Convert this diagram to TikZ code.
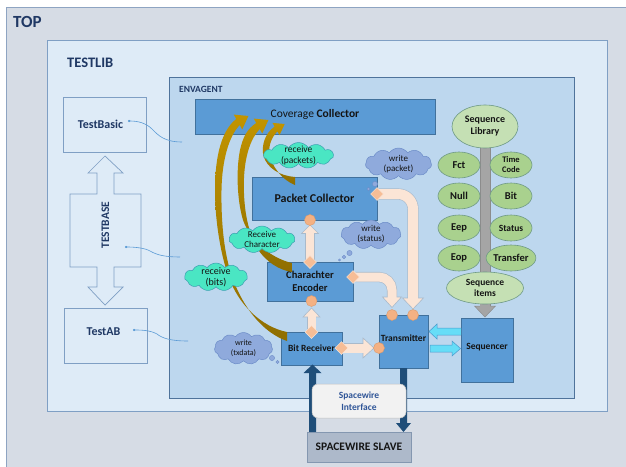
\documentclass[tikz,border=0pt]{standalone}
\usepackage{fontspec}
\setmainfont{Carlito}
\usetikzlibrary{shapes.symbols,shapes.geometric,arrows.meta}
\definecolor{topfill}{HTML}{D6DCE5}
\definecolor{topline}{HTML}{8EA4C2}
\definecolor{libfill}{HTML}{DEEBF7}
\definecolor{libline}{HTML}{7F9FC4}
\definecolor{envfill}{HTML}{BDD7EE}
\definecolor{envline}{HTML}{4F739B}
\definecolor{boxfill}{HTML}{5B9BD5}
\definecolor{boxline}{HTML}{41719C}
\definecolor{navy}{HTML}{1F3864}
\definecolor{txt}{HTML}{141414}
\definecolor{peach}{HTML}{FBE5D6}
\definecolor{peachline}{HTML}{A9BACB}
\definecolor{orng}{HTML}{F4B183}
\definecolor{orngline}{HTML}{DC9A6C}
\definecolor{gold1}{HTML}{C29400}
\definecolor{gold2}{HTML}{8F6E00}
\definecolor{tealc}{HTML}{4AE6C3}
\definecolor{tealline}{HTML}{3C9FB0}
\definecolor{cblue}{HTML}{8FAADC}
\definecolor{cblueline}{HTML}{6C8CC8}
\definecolor{cyanf}{HTML}{66DDF7}
\definecolor{cyanl}{HTML}{4A98CC}
\definecolor{dkblue}{HTML}{1F4E79}
\definecolor{slavefill}{HTML}{ADB9CA}
\definecolor{slaveline}{HTML}{8497B0}
\definecolor{grn}{HTML}{A9D18E}
\definecolor{grnline}{HTML}{6F9A86}
\definecolor{lgrn}{HTML}{C5E0B4}
\definecolor{polec}{HTML}{A5A5A5}
\definecolor{poleline}{HTML}{8C8C8C}
\definecolor{connc}{HTML}{5B9BD5}
\definecolor{ifill}{HTML}{F2F2F2}
\definecolor{iline}{HTML}{BFBFBF}
\definecolor{itext}{HTML}{2F5597}
\tikzset{
  bluebox/.style={rectangle, fill=boxfill, draw=boxline, line width=0.6pt, inner sep=0pt, text=txt, font=\bfseries\fontsize{9.5}{11}\selectfont, align=center},
  libbox/.style={rectangle, fill=libfill, draw=libline, line width=0.7pt, inner sep=0pt, text=navy, font=\bfseries\fontsize{12}{14}\selectfont},
  tcloud/.style={cloud, cloud puffs=11, cloud puff arc=110, cloud ignores aspect, fill=tealc, draw=tealline, line width=0.5pt, inner sep=0pt},
  bcloud/.style={cloud, cloud puffs=11, cloud puff arc=110, cloud ignores aspect, fill=cblue, draw=cblueline, line width=0.5pt, inner sep=0pt},
  ctext/.style={text=txt, align=center, inner sep=0pt},
  bubble/.style={circle, fill=cblue, draw=cblueline, line width=0.4pt, inner sep=0pt},
  pdiam/.style={diamond, aspect=1, minimum width=13pt, minimum height=13pt, inner sep=0pt, fill=orng!85!white, draw=peach, line width=0.5pt},
  pcirc/.style={circle, minimum size=11pt, inner sep=0pt, fill=orng, draw=orngline, line width=0.4pt},
  gell/.style={ellipse, minimum width=42pt, minimum height=26pt, inner sep=0pt, fill=grn, draw=grnline, line width=0.6pt, text=txt, font=\bfseries\fontsize{10.5}{12}\selectfont, align=center},
  lell/.style={ellipse, inner sep=0pt, fill=lgrn, draw=grnline, line width=0.6pt, text=txt, font=\bfseries\fontsize{10}{12}\selectfont, align=center},
  connline/.style={draw=connc, line width=0.6pt, -{Circle[length=2.2pt]}},
  pborder/.style={draw=peachline, line width=#1},
  pfill/.style={draw=peach, line width=#1},
  phead/.style={fill=peach, draw=peachline, line width=0.6pt},
  cyanarrow/.style={fill=cyanf, draw=cyanl, line width=0.5pt},
  goldarrow/.style={top color=gold1, bottom color=gold2},
}
\begin{document}
\begin{tikzpicture}[x=1pt,y=-1pt]
\useasboundingbox (0,0) rectangle (626,466);
\fill[white] (0,0) rectangle (626,466);
% frames
\filldraw[fill=topfill, draw=topline, line width=0.8pt] (6,7) rectangle (632,472);
\filldraw[fill=libfill, draw=libline, line width=0.8pt] (47,40) rectangle (607,411);
\filldraw[fill=envfill, draw=envline, line width=0.8pt] (169,77) rectangle (574,398);
\node[text=navy, font=\bfseries\fontsize{17}{20}\selectfont, anchor=west, inner sep=0pt] (ltop) at (13,22) {TOP};
\node[text=navy, font=\bfseries\fontsize{14.5}{17}\selectfont, anchor=west, inner sep=0pt] (llib) at (67,63) {TESTLIB};
\node[text=navy, font=\bfseries\fontsize{9.5}{11}\selectfont, anchor=west, inner sep=0pt] (lenv) at (179,89.5) {ENVAGENT};
% left column
\node[libbox, minimum width=83pt, minimum height=55pt] (tbasic) at (104.5,125) {};
\node[text=navy, font=\bfseries\fontsize{12}{14}\selectfont, inner sep=0pt] (tbasict) at (100.5,124) {TestBasic};
\node[libbox, minimum width=83pt, minimum height=55pt] (tab) at (105.5,335.5) {};
\node[text=navy, font=\bfseries\fontsize{12}{14}\selectfont, inner sep=0pt] (tabt) at (103.5,331.5) {TestAB};
\filldraw[fill=libfill, draw=libline, line width=0.7pt]
  (105,156) -- (123,173) -- (114,173) -- (114,194) -- (141,194) -- (141,267) -- (114,267) -- (114,287)
  -- (123,287) -- (105,305) -- (88,287) -- (97,287) -- (97,267) -- (70,267) -- (70,194) -- (97,194)
  -- (97,173) -- (88,173) -- cycle;
\node[text=navy, font=\bfseries\fontsize{11.5}{13}\selectfont, rotate=90, inner sep=0pt] (tbase) at (105.5,225) {TESTBASE};
\coordinate (c1s) at (182,142); \coordinate (c1e) at (128,121);
\coordinate (c2s) at (180,257); \coordinate (c2e) at (125,247);
\coordinate (c3s) at (188,341); \coordinate (c3e) at (133,330);
\draw[connline] (c1s) .. controls (164,142) and (158,135) .. (152,129) .. controls (146,123) and (138,121) .. (c1e);
\draw[connline] (c2s) .. controls (165,257) and (157,255) .. (150,251) .. controls (145,248) and (135,247) .. (c2e);
\draw[connline] (c3s) .. controls (170,341) and (162,338) .. (157,334) .. controls (150,330) and (140,330) .. (c3e);
% main boxes
\node[bluebox, minimum width=240pt, minimum height=35pt] (cov) at (315,116.5) {};
\node[text=txt, font=\fontsize{11.5}{13}\selectfont, inner sep=0pt] (covt) at (315,114.5) {Coverage \textbf{Collector}};
\node[bluebox, minimum width=125pt, minimum height=43pt, font=\bfseries\fontsize{12}{14}\selectfont] (pc) at (314.5,198.5) {Packet Collector};
\node[bluebox, minimum width=86pt, minimum height=39pt, font=\bfseries\fontsize{10.5}{12.5}\selectfont] (enc) at (310,281.5) {Charachter\\Encoder};
\node[bluebox, minimum width=61pt, minimum height=33pt] (br) at (311.5,348.5) {Bit Receiver};
\node[bluebox, minimum width=49pt, minimum height=53pt] (tx) at (403.5,341.5) {};
\node[text=txt, font=\bfseries\fontsize{9.5}{11}\selectfont, inner sep=0pt] (txt1) at (403.5,338.5) {Transmitter};
\node[bluebox, minimum width=52pt, minimum height=64pt] (seq) at (487,350) {};
\node[text=txt, font=\bfseries\fontsize{9.5}{11}\selectfont, inner sep=0pt] (seqt) at (487,347) {Sequencer};
% sequence library
\filldraw[fill=polec, draw=poleline, line width=0.5pt] (480,140) rectangle (490,306);
\filldraw[fill=polec, draw=poleline, line width=0.5pt] (474.5,306) -- (495.5,306) -- (485,317) -- cycle;
\fill[polec] (480.3,300) rectangle (489.7,307);
\node[lell, minimum width=66pt, minimum height=43pt] (slib) at (485,126.5) {Sequence\\Library};
\node[gell] (fct) at (459,165) {Fct};
\node[gell, font=\bfseries\fontsize{8.5}{10}\selectfont] (tcode) at (511,165) {Time\\Code};
\node[gell] (null) at (459,196) {Null};
\node[gell] (bit) at (511,196) {Bit};
\node[gell] (eep) at (459,228) {Eep};
\node[gell, font=\bfseries\fontsize{9.5}{11}\selectfont] (status) at (511,228) {Status};
\node[gell] (eop) at (459,258) {Eop};
\node[gell, minimum width=43pt] (transfer) at (511,258) {Transfer};
\node[lell, minimum width=77pt, minimum height=32pt, font=\bfseries\fontsize{9.5}{11.5}\selectfont] (sitems) at (485,288) {Sequence\\items};
% spacewire
\fill[dkblue] (309,432) -- (309,373) -- (303.5,373) -- (312.5,364.5) -- (321.5,373) -- (316,373) -- (316,432) -- cycle;
\fill[dkblue] (400,368) -- (400,423) -- (396,423) -- (403.5,432) -- (411,423) -- (407,423) -- (407,368) -- cycle;
\node[rectangle, fill=slavefill, draw=slaveline, line width=0.7pt, minimum width=104pt, minimum height=30pt, inner sep=0pt, text=txt, font=\bfseries\fontsize{11.5}{13}\selectfont] (slave) at (359,447) {SPACEWIRE SLAVE};
\node[rectangle, rounded corners=6pt, fill=ifill, draw=iline, line width=0.5pt, minimum width=94pt, minimum height=34pt, inner sep=0pt, text=itext, align=center, font=\bfseries\fontsize{9.5}{11.5}\selectfont] (iface) at (359,401) {Spacewire\\Interface};
% gold arrows
\shade[goldarrow]
 (287,332) .. controls (262,327) and (238,305) .. (228,275)
 .. controls (222,258) and (215,225) .. (215,190)
 .. controls (215,155) and (222,130) .. (236.25,119)
 -- (233.75,114.6) -- (248.4,116) -- (242.25,129.4) -- (239.75,125)
 .. controls (229,136) and (222,160) .. (221.5,190)
 .. controls (221,222) and (224,250) .. (230,270)
 .. controls (237,295) and (256,330) .. (287,341) -- cycle;
\shade[goldarrow]
 (292,263) .. controls (270,258) and (250,240) .. (243,220)
 .. controls (237,200) and (236,170) .. (240,150)
 .. controls (243,137) and (247,129) .. (256.25,123)
 -- (253.75,118.6) -- (268.4,120) -- (262.25,133.4) -- (259.75,129)
 .. controls (251,138) and (245,155) .. (244,178)
 .. controls (243,205) and (247,230) .. (257,248)
 .. controls (266,262) and (279,270) .. (292,272) -- cycle;
\shade[goldarrow]
 (295,177) .. controls (280,176) and (267,168) .. (263.5,156)
 .. controls (261,146) and (265,133) .. (274.6,126.6)
 -- (272.5,122.9) -- (284.7,124) -- (279.5,135.1) -- (277.4,131.4)
 .. controls (271,138) and (268.5,146) .. (269.5,154)
 .. controls (271.5,166) and (282,180) .. (295,185) -- cycle;
% peach connectors
% PC -> Transmitter
\draw[pborder=11.2pt, rounded corners=15pt] (377,194) -- (413,194) -- (413,299);
\filldraw[phead] (402.5,298) -- (423.5,298) -- (413,309) -- cycle;
\draw[pfill=10pt, rounded corners=15pt] (377,194) -- (413,194) -- (413,299);
% Encoder -> Transmitter
\draw[pborder=10.2pt, rounded corners=13pt] (353,277) -- (392,277) -- (392,298);
\filldraw[phead] (382.5,297) -- (401.5,297) -- (392,307.5) -- cycle;
\draw[pfill=9pt, rounded corners=13pt] (353,277) -- (392,277) -- (392,298);
% Encoder -> PC
\draw[pborder=9.2pt] (310,262) -- (310,232.5);
\filldraw[phead] (301.5,233.5) -- (318.5,233.5) -- (310,225) -- cycle;
\draw[pfill=8pt] (310,262) -- (310,232.5);
% BR -> Encoder
\draw[pborder=9.2pt] (311.5,332) -- (311.5,316);
\filldraw[phead] (303,317) -- (320,317) -- (311.5,308) -- cycle;
\draw[pfill=8pt] (311.5,332) -- (311.5,316);
% BR -> Transmitter
\draw[pborder=10.2pt] (342,348) -- (364,348);
\filldraw[phead] (363,338) -- (363,358) -- (374,348) -- cycle;
\draw[pfill=9pt] (342,348) -- (364,348);
% diamonds and circles
\node[pdiam] (d1) at (377,194) {};
\node[pdiam] (d2) at (353,277) {};
\node[pdiam] (d3) at (310,262) {};
\node[pdiam] (d4) at (311.5,332) {};
\node[pdiam] (d5) at (341.5,348) {};
\node[pcirc] (o1) at (310,220) {};
\node[pcirc] (o2) at (311.5,301) {};
\node[pcirc] (o3) at (379,348) {};
\node[pcirc] (o4) at (392,315) {};
\node[pcirc] (o5) at (413,315) {};
% cyan arrows
\filldraw[cyanarrow] (461,328) -- (437,328) -- (437,324) -- (429,331.5) -- (437,339) -- (437,335) -- (461,335);
\filldraw[cyanarrow] (430,345) -- (452,345) -- (452,341) -- (460.5,348.5) -- (452,356) -- (452,352) -- (430,352) -- cycle;
% clouds
\node[tcloud, minimum width=70pt, minimum height=26pt, label={[ctext, font=\fontsize{9.5}{10.5}\selectfont]center:{receive\\(packets)}}] (cpk) at (298.5,155.5) {};
\node[bcloud, minimum width=66pt, minimum height=32pt, label={[ctext, font=\fontsize{9}{10}\selectfont]center:{write\\(packet)}}] (wpk) at (398.5,164) {};
\node[bubble, minimum size=5.2pt] (bp1) at (375,184) {};
\node[bubble, minimum size=3.4pt] (bp2) at (368.5,189) {};
\node[bcloud, minimum width=60pt, minimum height=29pt, label={[ctext, font=\fontsize{9}{10}\selectfont]center:{write\\(status)}}] (wst) at (371,234.5) {};
\node[bubble, minimum size=5.2pt] (bs1) at (349.5,253) {};
\node[bubble, minimum size=3.6pt] (bs2) at (344,257) {};
\node[bubble, minimum size=2.4pt] (bs3) at (339.5,260) {};
\node[tcloud, minimum width=66pt, minimum height=27pt, label={[ctext, font=\fontsize{9}{10}\selectfont]center:{Receive\\Character}}] (crc) at (262,239.5) {};
\node[tcloud, minimum width=63pt, minimum height=28pt, label={[ctext, font=\fontsize{10}{11.5}\selectfont]center:{receive\\(bits)}}] (cbt) at (216,277) {};
\node[bcloud, minimum width=58pt, minimum height=32pt, label={[ctext, font=\fontsize{8}{9.5}\selectfont]center:{write\\(txdata)}}] (wtx) at (243.5,348.5) {};
\node[bubble, minimum size=5.2pt] (bt1) at (272,358) {};
\node[bubble, minimum size=3.4pt] (bt2) at (277.5,362) {};
\end{tikzpicture}
\end{document}
